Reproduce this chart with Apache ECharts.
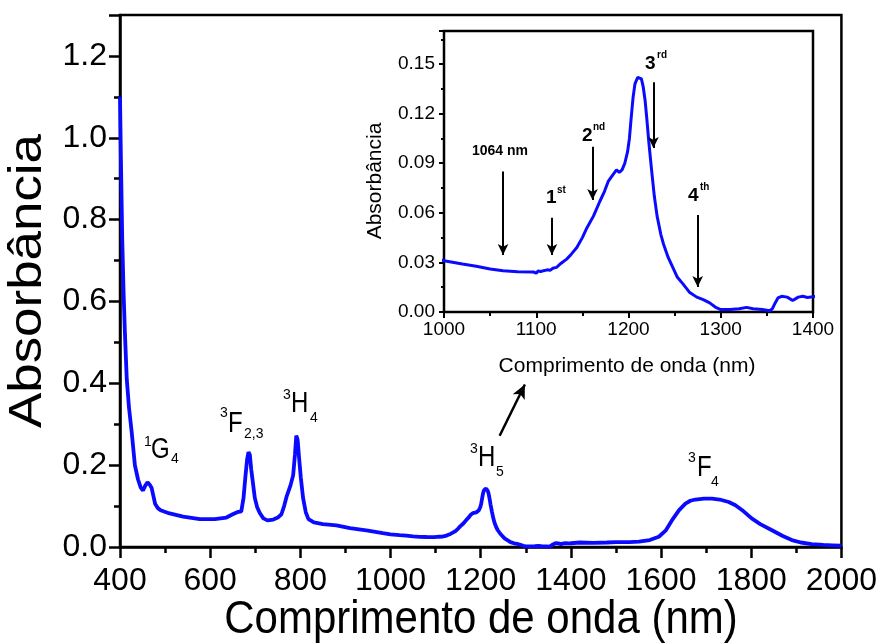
<!DOCTYPE html>
<html>
<head>
<meta charset="utf-8">
<script src="https://cdn.jsdelivr.net/npm/echarts@6/dist/echarts.min.js"></script>
<style>html,body{margin:0;padding:0;background:#fff}#c{width:880px;height:643px}</style>
</head>
<body>
<div id="c"></div>
<script>
// Wavelength (nm)
const wavelength = [
  400,402,405,408,411,415,420,426,433,440,446,451,456,461,466,470,474,478,484,490,
  510,540,577,610,636,650,660,669,674,678,682,685,688,691,695,699,704,710,718,727,
  740,750,758,764,770,778,784,788,791,794,797,801,806,812,818,830,850,880,910,950,
  983,1000,1020,1035,1050,1064,1080,1097,1100,1102,1105,1108,1112,1115,1118,1122,1127,1133,1138,1144,
  1150,1155,1162,1169,1174,1178,1183,1187,1190,1193,1196,1199,1201,1203,1205,1207,1210,1212,1214,1216,
  1218,1220,1222,1225,1228,1231,1235,1238,1243,1248,1253,1259,1266,1274,1281,1288,1294,1300,1310,1320,
  1328,1335,1345,1353,1356,1359,1362,1366,1372,1378,1384,1389,1394,1400,1420,1450,1480,1500,1530,1551,
  1575,1595,1610,1624,1640,1654,1665,1676,1695,1713,1730,1750,1765,1780,1801,1820,1846,1870,1890,1910,
  1934,1960,1980,2000
];
// Absorbance
const absorbance = [
  1.10,0.95,0.75,0.62,0.52,0.41,0.34,0.28,0.20,0.165,0.145,0.138,0.150,0.158,0.152,0.145,0.125,0.105,0.095,0.090,
  0.082,0.074,0.068,0.068,0.072,0.080,0.085,0.087,0.120,0.170,0.215,0.232,0.225,0.190,0.155,0.120,0.098,0.083,0.070,0.065,
  0.067,0.072,0.080,0.100,0.125,0.150,0.175,0.225,0.272,0.262,0.220,0.170,0.120,0.085,0.068,0.060,0.056,0.053,0.046,0.040,
  0.034,0.031,0.029,0.0277,0.026,0.0249,0.0244,0.0242,0.0235,0.0248,0.0245,0.025,0.0255,0.0252,0.0265,0.027,0.0295,0.032,0.035,0.039,
  0.045,0.051,0.058,0.067,0.073,0.079,0.083,0.086,0.0845,0.086,0.090,0.097,0.105,0.118,0.130,0.138,0.142,0.143,0.141,0.136,
  0.128,0.116,0.103,0.086,0.070,0.058,0.047,0.041,0.033,0.027,0.021,0.017,0.012,0.009,0.0075,0.0055,0.003,0.0015,0.0015,0.002,
  0.0028,0.002,0.0015,0.0008,0.002,0.0055,0.0085,0.0095,0.009,0.007,0.009,0.0095,0.0088,0.0092,0.011,0.010,0.011,0.012,0.012,0.013,
  0.017,0.025,0.040,0.065,0.090,0.106,0.113,0.116,0.118,0.118,0.116,0.110,0.102,0.090,0.070,0.056,0.041,0.027,0.017,0.011,
  0.007,0.005,0.004,0.003
];
// Inset arrows (data coordinates of inset): [x, yFrom, yTo]
const insetArrows = [
  [1064, 0.085, 0.0345],
  [1117, 0.057, 0.0345],
  [1161, 0.100, 0.0678],
  [1227, 0.139, 0.0992],
  [1275, 0.0587, 0.0151]
];
// Main arrow pointing toward inset (main data coords)
const mainArrow = [[1242, 0.272], [1298, 0.397]];

const seriesData = wavelength.map((w, i) => [w, absorbance[i]]);
const FONT = '"Liberation Sans", Arial, sans-serif';
const BLUE = '#0a0aff';

function txt(x, y, text, size, extra) {
  extra = extra || {};
  return Object.assign({
    type: 'text', x: x, y: y, silent: true,
    style: {
      text: text, fontSize: size, fontFamily: FONT, fill: '#000',
      fontWeight: extra.bold ? 'bold' : 'normal',
      align: extra.align || 'left', verticalAlign: 'middle'
    }
  }, extra.scaleX ? {scaleX: extra.scaleX} : {}, extra.scaleY ? {scaleY: extra.scaleY} : {},
     extra.rotation ? {rotation: extra.rotation} : {});
}

const S = 1.25; // vertical stretch of annotation glyphs
const graphics = [
  // main axis titles
  txt(481, 620, 'Comprimento de onda (nm)', 42, {align: 'center', scaleY: 1.12}),
  txt(28, 281, 'Absorbância', 46, {align: 'center', rotation: Math.PI / 2, scaleX: 1.15}),
  // inset axis titles
  txt(627, 366, 'Comprimento de onda (nm)', 21, {align: 'center'}),
  txt(375, 181, 'Absorbância', 20, {align: 'center', rotation: Math.PI / 2, scaleX: 1.05}),
  // 1G4
  txt(144, 442, '1', 14), txt(151, 450, 'G', 24, {scaleY: S}), txt(171, 459, '4', 14),
  // 3F2,3
  txt(220, 413, '3', 14), txt(228, 424, 'F', 24, {scaleY: S}), txt(244, 434, '2,3', 14),
  // 3H4
  txt(283, 395, '3', 14), txt(291, 404, 'H', 24, {scaleY: S}), txt(310, 418, '4', 14),
  // 3H5
  txt(470, 449, '3', 14), txt(478, 458, 'H', 24, {scaleY: S}), txt(496, 472, '5', 14),
  // 3F4
  txt(688, 458, '3', 14), txt(697, 468, 'F', 24, {scaleY: S}), txt(711, 482, '4', 14),
  // inset labels
  txt(500, 151, '1064 nm', 14, {align: 'center', bold: true}),
  txt(546, 198, '1', 19, {bold: true}), txt(557, 190, 'st', 10, {bold: true}),
  txt(582, 136, '2', 19, {bold: true}), txt(593, 127, 'nd', 10, {bold: true}),
  txt(645, 64, '3', 19, {bold: true}), txt(657, 55, 'rd', 10, {bold: true}),
  txt(688, 196, '4', 19, {bold: true}), txt(700, 187, 'th', 10, {bold: true})
];

const axisCommon = (tickLen, minorLen, lw) => ({
  axisLine: {show: true, onZero: false, lineStyle: {color: '#000', width: lw}},
  axisTick: {show: true, inside: false, length: tickLen, lineStyle: {color: '#000', width: lw}},
  minorTick: {show: true, splitNumber: 2, length: minorLen, lineStyle: {color: '#000', width: lw}},
  splitLine: {show: false},
  minorSplitLine: {show: false}
});

const option = {
  animation: false,
  backgroundColor: '#fff',
  graphic: graphics,
  grid: [
    {left: 120, top: 15, width: 723, height: 532, show: true, borderColor: '#000', borderWidth: 2.5, backgroundColor: 'transparent'},
    {left: 444, top: 31, width: 369, height: 281, show: true, borderColor: '#000', borderWidth: 2.5, backgroundColor: 'transparent'}
  ],
  xAxis: [
    Object.assign({type: 'value', gridIndex: 0, min: 400, max: 2000, interval: 200,
      axisLabel: {fontSize: 32, fontFamily: FONT, color: '#000', margin: 18, formatter: v => String(v)}},
      axisCommon(11, 6, 2.5)),
    Object.assign({type: 'value', gridIndex: 1, min: 1000, max: 1400, interval: 100,
      axisLabel: {fontSize: 19, fontFamily: FONT, color: '#000', margin: 8, formatter: v => String(v)}},
      axisCommon(6, 4, 2))
  ],
  yAxis: [
    Object.assign({type: 'value', gridIndex: 0, min: 0, max: 1.3, interval: 0.2,
      axisLabel: {fontSize: 32, fontFamily: FONT, color: '#000', margin: 13, showMaxLabel: false,
        formatter: v => v.toFixed(1)}}, axisCommon(11, 6, 2.5)),
    Object.assign({type: 'value', gridIndex: 1, min: 0, max: 0.17, interval: 0.03,
      axisLabel: {fontSize: 19, fontFamily: FONT, color: '#000', margin: 9, showMaxLabel: false,
        formatter: v => v.toFixed(2)}}, axisCommon(5, 3, 2))
  ],
  series: [
    {
      type: 'line', xAxisIndex: 0, yAxisIndex: 0, data: seriesData, showSymbol: false,
      lineStyle: {color: BLUE, width: 3.8}, clip: true,
      markLine: {
        silent: true, symbol: ['none', 'arrow'], symbolSize: [10, 14],
        label: {show: false}, lineStyle: {color: '#000', width: 2.5, type: 'solid'},
        data: [[{coord: mainArrow[0]}, {coord: mainArrow[1]}]]
      }
    },
    {
      type: 'line', xAxisIndex: 1, yAxisIndex: 1, data: seriesData, showSymbol: false,
      lineStyle: {color: BLUE, width: 3}, clip: true,
      markLine: {
        silent: true, symbol: ['none', 'arrow'], symbolSize: [8, 11],
        label: {show: false}, lineStyle: {color: '#000', width: 2, type: 'solid'},
        data: insetArrows.map(a => [{coord: [a[0], a[1]]}, {coord: [a[0], a[2]]}])
      }
    }
  ]
};

const chart = echarts.init(document.getElementById('c'), null, {renderer: 'canvas'});
chart.setOption(option);
</script>
</body>
</html>
